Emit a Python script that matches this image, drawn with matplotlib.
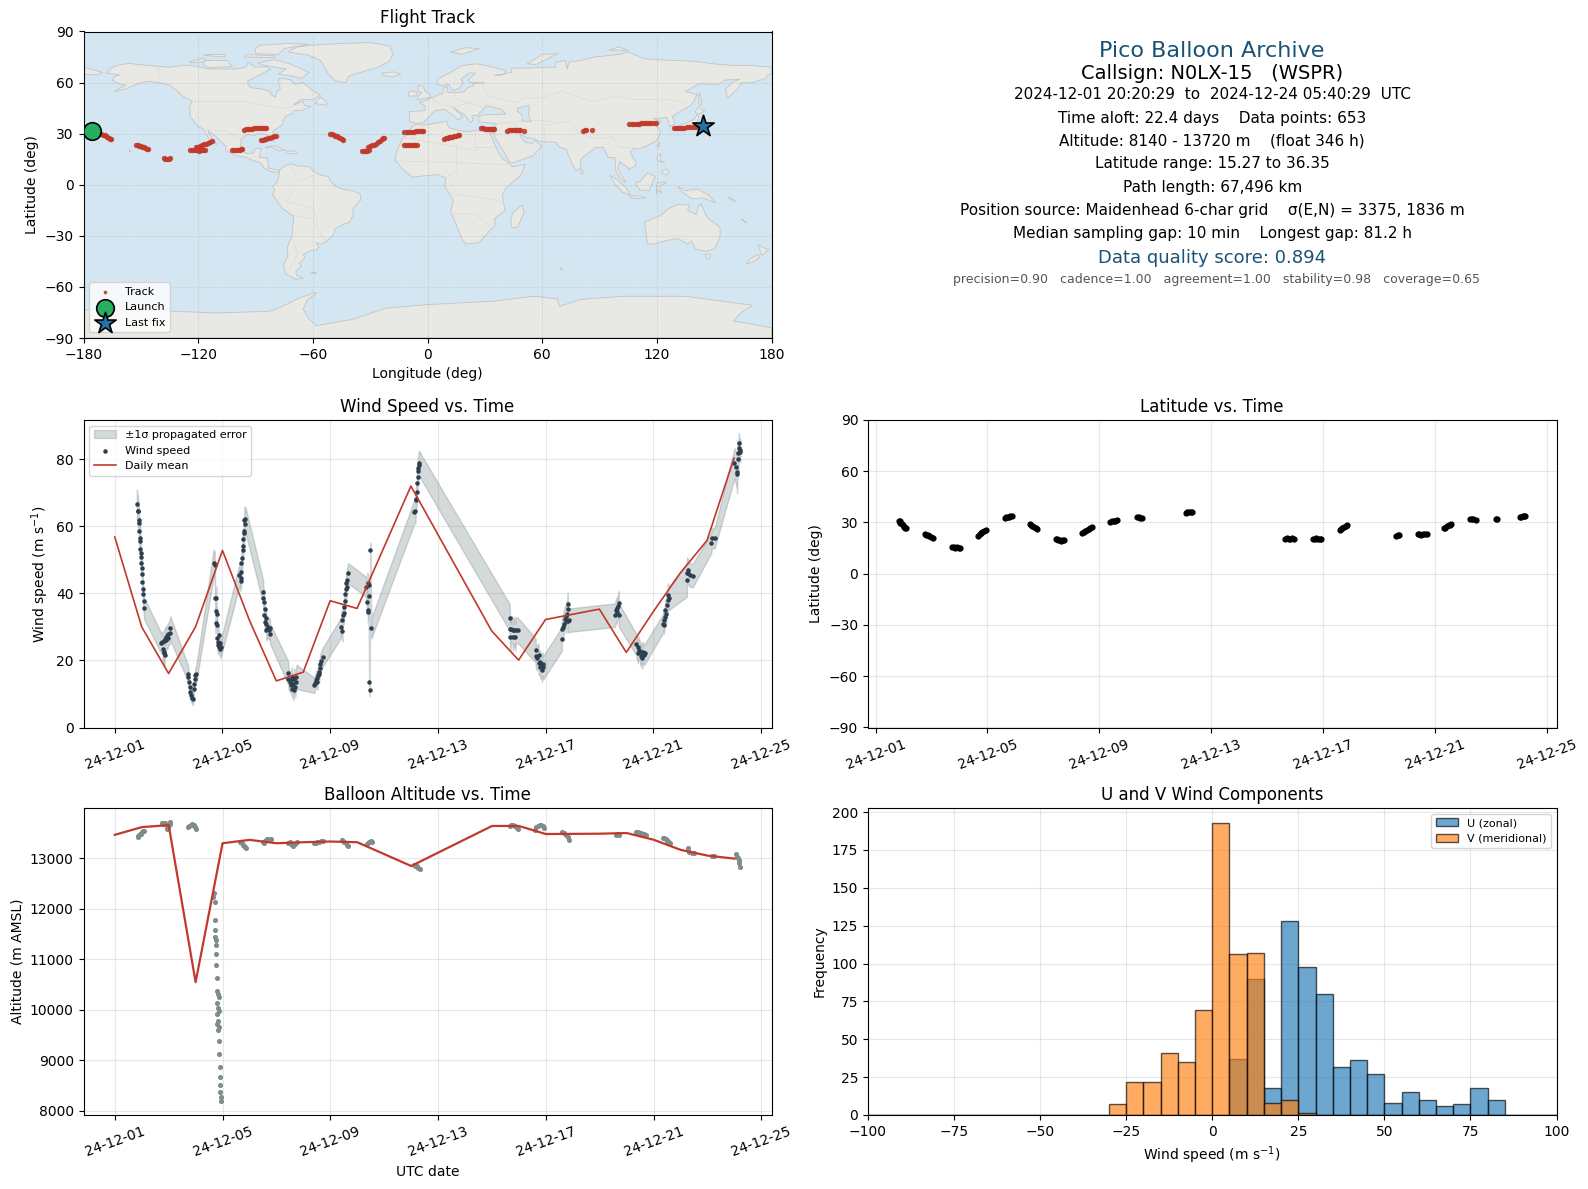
import datetime as dt

import numpy as np
import matplotlib
matplotlib.use("Agg")
import matplotlib.pyplot as plt
import matplotlib.dates as mdates
from matplotlib.patches import Polygon

# wind speed samples: day since 2024-12-01, m/s, 1-sigma
wind_day = [
    0.82, 0.856, 0.86, 0.893, 0.895, 0.906, 0.943, 0.945, 0.95, 0.968, 0.97, 0.98, 1.017, 1.02, 1.025, 1.055, 1.042, 1.067, 1.09,
    1.725, 1.76, 1.787, 1.81, 1.812, 1.824, 1.85, 1.852, 1.886, 1.91, 1.935, 1.96, 1.985, 2.035, 2.06,
    2.72, 2.73, 2.755, 2.78, 2.80, 2.84, 2.88, 2.90, 2.93, 2.94, 2.98, 2.99, 3.03,
    3.67, 3.71, 3.73, 3.75, 3.76, 3.77, 3.78, 3.81, 3.815, 3.82, 3.85, 3.86, 3.88, 3.90, 3.92, 3.95,
    4.63, 4.67, 4.68, 4.69, 4.70, 4.73, 4.75, 4.755, 4.78, 4.79, 4.80, 4.81, 4.83, 4.85,
    5.51, 5.515, 5.55, 5.555, 5.57, 5.575, 5.60, 5.63, 5.635, 5.66, 5.69, 5.73, 5.76, 5.77,
    6.44, 6.45, 6.50, 6.53, 6.55, 6.58, 6.60, 6.63, 6.65, 6.67, 6.70, 6.72, 6.75,
    7.41, 7.43, 7.47, 7.51, 7.52, 7.54, 7.57, 7.59, 7.61, 7.63, 7.67, 7.72,
    8.42, 8.425, 8.45, 8.46, 8.51, 8.52, 8.55, 8.555, 8.59, 8.595, 8.61, 8.62, 8.67,
    9.33, 9.38, 9.39, 9.40, 9.42, 9.43, 9.45, 9.46, 9.47, 9.49, 9.53,
    11.13, 11.17, 11.18, 11.19, 11.22, 11.225, 11.25, 11.255, 11.28, 11.285, 11.30,
    14.67, 14.68, 14.69, 14.71, 14.78, 14.785, 14.84, 14.88, 14.90, 14.97,
    15.63, 15.64, 15.69, 15.74, 15.745, 15.79, 15.81, 15.83, 15.87, 15.89, 15.92,
    16.60, 16.61, 16.65, 16.67, 16.71, 16.76, 16.765, 16.78, 16.82, 16.825, 16.83, 16.87,
    18.58, 18.62, 18.65, 18.66, 18.71, 18.72, 18.725,
    19.36, 19.43, 19.44, 19.49, 19.53, 19.56, 19.59, 19.61, 19.64, 19.70,
    20.35, 20.39, 20.395, 20.43, 20.45, 20.48, 20.50, 20.54, 20.545, 20.58,
    21.25, 21.255, 21.28, 21.31, 21.37, 21.47,
    22.15, 22.18, 22.28,
    23.02, 23.06, 23.11, 23.115, 23.14, 23.16, 23.18, 23.185, 23.21, 23.24,
]
wind_speed = [
    66.6, 64.7, 64.5, 61.9, 60.9, 58.5, 56.4, 55.7, 53.1, 51.9, 50.7, 49.2, 47.5, 45.8, 43.3, 39.7, 41.2, 37.7, 35.5,
    25.1, 25.6, 23.3, 22.1, 25.9, 22.6, 21.6, 26.3, 26.9, 26.1, 27.3, 26.8, 27.9, 28.3, 29.6,
    16.1, 15.1, 13.6, 12.1, 10.6, 9.7, 8.7, 8.4, 11.6, 12.9, 14.6, 15.6, 16.1,
    49.0, 48.5, 38.7, 31.3, 34.8, 38.5, 33.7, 30.7, 26.6, 24.6, 25.6, 27.6, 24.1, 25.1, 23.3, 23.9,
    45.5, 43.8, 46.5, 44.5, 49.2, 50.4, 52.9, 54.1, 56.1, 58.7, 57.9, 61.9, 60.6, 62.1,
    40.5, 38.5, 37.3, 33.5, 35.3, 31.5, 32.8, 30.8, 29.1, 29.4, 30.0, 29.1, 29.6, 27.9,
    16.3, 14.6, 13.6, 14.1, 12.6, 15.1, 11.6, 13.1, 11.1, 14.6, 12.1, 13.6, 15.1,
    12.6, 13.3, 14.1, 14.8, 13.6, 15.6, 16.6, 16.1, 17.6, 18.9, 19.9, 20.9,
    30.0, 32.0, 28.7, 33.5, 34.0, 36.0, 37.8, 39.8, 41.2, 43.0, 42.0, 44.0, 46.0,
    42.0, 37.3, 43.2, 34.5, 35.0, 42.5, 13.6, 39.2, 11.3, 52.8, 29.6,
    64.4, 64.5, 68.1, 67.9, 70.3, 73.0, 74.8, 76.6, 77.3, 78.3, 78.8,
    32.8, 29.3, 26.9, 29.3, 29.0, 26.9, 29.0, 26.9, 29.0, 29.0,
    23.0, 21.3, 20.6, 21.6, 19.1, 19.6, 18.1, 18.6, 17.1, 18.9, 17.9,
    26.3, 29.3, 30.0, 31.0, 32.5, 33.2, 31.8, 33.9, 35.2, 36.7, 31.8, 32.0,
    33.5, 35.0, 34.5, 35.5, 36.3, 37.2, 33.5,
    24.9, 22.1, 24.1, 23.1, 21.3, 22.4, 20.6, 22.6, 21.6, 22.1,
    30.8, 32.0, 30.7, 33.0, 35.0, 33.8, 36.5, 38.0, 39.5, 38.5,
    44.0, 46.2, 47.0, 46.0, 45.5, 45.3,
    54.9, 56.4, 56.4,
    78.8, 77.8, 76.3, 75.5, 81.8, 80.0, 83.3, 84.8, 82.3, 82.8,
]
wind_sigma = [
    4.4, 4.4, 4.3, 4.2, 4.2, 4.0, 4.0, 3.9, 3.8, 3.8, 3.7, 3.6, 3.6, 3.5, 3.5, 3.4, 3.4, 3.3, 3.2,
    3.0, 3.0, 3.0, 3.1, 3.0, 3.0, 3.0, 3.2, 3.2, 3.2, 3.3, 3.3, 3.4, 3.5, 3.6,
    2.4, 2.3, 2.2, 2.0, 2.0, 1.9, 1.8, 1.7, 1.9, 2.0, 2.2, 2.3, 2.5,
    4.0, 4.0, 3.6, 3.2, 3.3, 3.5, 3.2, 3.0, 2.8, 2.6, 2.7, 2.8, 2.6, 2.6, 2.5, 2.6,
    3.2, 3.0, 3.2, 3.0, 3.3, 3.4, 3.5, 3.5, 3.6, 3.7, 3.7, 3.8, 3.8, 3.8,
    3.5, 3.5, 3.5, 3.3, 3.4, 3.2, 3.2, 3.1, 3.0, 3.0, 3.0, 3.0, 3.0, 3.0,
    3.5, 3.2, 3.0, 3.0, 2.9, 3.0, 2.9, 2.9, 2.9, 3.0, 2.9, 3.0, 3.6,
    2.3, 2.3, 2.3, 2.4, 2.3, 2.5, 2.5, 2.5, 2.6, 2.7, 2.8, 2.8,
    3.0, 3.0, 3.0, 3.0, 3.0, 3.0, 3.0, 3.0, 3.0, 3.0, 3.0, 3.0, 3.0,
    3.0, 3.0, 3.0, 3.0, 3.0, 3.0, 2.2, 3.0, 2.0, 2.2, 3.0,
    3.5, 3.5, 3.5, 3.5, 3.5, 3.5, 3.7, 3.7, 3.7, 3.7, 3.7,
    4.0, 4.0, 4.0, 4.0, 4.0, 4.0, 4.0, 4.0, 3.8, 3.8,
    3.6, 3.5, 3.5, 3.5, 3.5, 3.5, 3.5, 3.5, 3.5, 3.5, 3.5,
    3.5, 3.5, 3.5, 3.5, 3.5, 3.5, 3.5, 3.5, 3.5, 3.5, 3.5, 3.5,
    3.5, 3.5, 3.5, 3.5, 3.5, 3.5, 3.5,
    3.2, 3.0, 3.2, 3.0, 3.0, 3.0, 3.0, 3.0, 3.0, 3.0,
    2.8, 3.0, 2.8, 3.0, 3.2, 3.2, 3.4, 3.5, 3.5, 3.5,
    5.0, 4.5, 3.5, 3.5, 3.5, 3.5,
    3.0, 3.0, 3.0,
    4.5, 4.8, 5.2, 5.6, 4.0, 4.0, 3.2, 3.0, 3.2, 3.2,
]
wind_mean_day = [0, 1, 2, 3, 4, 5, 6, 7, 8, 9, 11, 14, 15, 16, 18, 19, 20, 21, 22, 23]
wind_mean = [56.8, 30.0, 16.1, 30.0, 52.8, 32.0, 13.9, 16.5, 37.8, 35.5, 72.0, 28.8, 20.1, 32.2, 35.3, 22.4, 34.5, 46.0, 55.8, 80.3]

# latitude samples
lat_day = [
    0.847, 0.87, 0.89, 0.93, 0.97, 1.01, 1.05, 1.086,
    1.77, 1.82, 1.87, 1.92, 1.97, 2.04,
    2.73, 2.79, 2.85, 2.91, 2.97, 3.03,
    3.67, 3.72, 3.77, 3.82, 3.88, 3.95,
    4.63, 4.68, 4.73, 4.78, 4.82, 4.87,
    5.51, 5.56, 5.61, 5.66, 5.72, 5.78,
    6.44, 6.49, 6.54, 6.59, 6.64, 6.69, 6.74,
    7.38, 7.44, 7.50, 7.56, 7.62, 7.68, 7.73,
    8.39, 8.45, 8.51, 8.57, 8.64,
    9.36, 9.42, 9.47, 9.52,
    11.09, 11.15, 11.21, 11.27, 11.33,
    14.66, 14.72, 14.78, 14.84, 14.90, 14.97,
    15.65, 15.70, 15.76, 15.82, 15.88, 15.93,
    16.60, 16.65, 16.70, 16.75, 16.81, 16.87,
    18.62, 18.67, 18.72,
    19.39, 19.45, 19.52, 19.58, 19.65, 19.71,
    20.33, 20.38, 20.44, 20.50, 20.55, 20.59,
    21.26, 21.32, 21.38, 21.47,
    22.18, 22.22,
    23.05, 23.10, 23.15, 23.20, 23.236,
]
lat_deg = [
    31.0, 30.7, 29.9, 29.2, 28.4, 27.6, 27.0, 26.5,
    23.1, 22.9, 22.6, 22.2, 21.7, 21.0,
    15.5, 15.4, 15.3, 15.4, 15.3, 15.3,
    22.2, 23.0, 23.9, 24.5, 25.0, 25.5,
    32.5, 33.0, 33.3, 33.5, 33.8, 33.9,
    29.4, 28.8, 28.1, 27.6, 27.0, 26.3,
    20.2, 20.1, 20.0, 19.6, 19.4, 19.5, 19.5,
    24.1, 24.6, 25.2, 25.7, 26.3, 26.8, 27.3,
    30.4, 30.9, 31.0, 31.1, 31.2,
    33.0, 33.0, 32.8, 32.5,
    35.7, 35.9, 36.2, 36.4, 36.35,
    20.6, 20.7, 20.6, 20.6, 20.7, 20.6,
    20.6, 20.6, 20.7, 20.6, 20.5, 20.6,
    25.5, 26.0, 26.7, 27.4, 28.0, 28.6,
    22.3, 22.5, 22.9,
    23.0, 23.0, 22.9, 23.0, 23.0, 23.0,
    26.5, 27.0, 27.7, 28.3, 28.8, 29.2,
    31.8, 31.9, 31.8, 31.7,
    32.0, 32.1,
    33.0, 33.3, 33.6, 33.9, 34.0,
]

# altitude samples
alt_day = [
    0.856, 0.90, 0.95, 1.00, 1.04, 1.07, 0.88, 0.98,
    1.76, 1.80, 1.85, 1.90, 1.93, 1.96, 2.00, 2.06, 2.04,
    2.72, 2.76, 2.82, 2.88, 2.94, 2.98, 3.03,
    3.68, 3.65, 3.72, 3.72, 3.72, 3.72, 3.76, 3.76, 3.76, 3.75, 3.80, 3.80, 3.83, 3.86, 3.80, 3.83, 3.86, 3.80, 3.83, 3.81, 3.86, 3.83, 3.87, 3.87, 3.91, 3.91, 3.91, 3.92, 3.93, 3.95,
    4.64, 4.68, 4.72, 4.76, 4.80, 4.83, 4.86,
    5.51, 5.56, 5.60, 5.64, 5.70, 5.75, 5.79, 5.53,
    6.44, 6.49, 6.54, 6.58, 6.62, 6.68, 6.75,
    7.41, 7.47, 7.52, 7.58, 7.64, 7.69, 7.74,
    8.42, 8.47, 8.52, 8.57, 8.62, 8.67,
    9.35, 9.40, 9.45, 9.50, 9.54,
    11.09, 11.14, 11.20, 11.26, 11.32,
    14.65, 14.72, 14.78, 14.84, 14.90, 14.97,
    15.61, 15.64, 15.72, 15.78, 15.83, 15.88, 15.92,
    16.61, 16.69, 16.76, 16.83, 16.87,
    18.62, 18.66, 18.71,
    19.36, 19.43, 19.49, 19.54, 19.59, 19.65, 19.71,
    20.35, 20.40, 20.45, 20.50, 20.54, 20.60,
    21.26, 21.32, 21.41, 21.50,
    22.15, 22.20, 22.24,
    23.05, 23.08, 23.12, 23.15, 23.18, 23.22,
]
alt_m = [
    13431, 13460, 13490, 13520, 13540, 13550, 13445, 13480,
    13696, 13680, 13690, 13660, 13577, 13600, 13650, 13710, 13670,
    13617, 13640, 13663, 13670, 13650, 13625, 13584,
    12303, 12237, 12138, 11786, 11587, 11441, 11375, 11275, 11109, 10891, 10632, 10367, 10313, 10247, 10134, 10035, 9982, 9915, 9783, 9716, 9663, 9597, 9385, 9119, 8861, 8668, 8502, 8370, 8270, 8191,
    13332, 13320, 13300, 13270, 13240, 13215, 13199,
    13332, 13350, 13370, 13380, 13375, 13360, 13378, 13300,
    13312, 13320, 13290, 13270, 13252, 13290, 13332,
    13300, 13310, 13320, 13320, 13335, 13345, 13345,
    13365, 13350, 13330, 13300, 13270, 13245,
    13279, 13300, 13320, 13335, 13332,
    12867, 12850, 12840, 12800, 12788,
    13647, 13660, 13667, 13640, 13620, 13580,
    13567, 13620, 13647, 13655, 13653, 13630, 13600,
    13513, 13500, 13467, 13413, 13353,
    13453, 13487, 13460,
    13520, 13515, 13507, 13495, 13487, 13475, 13467,
    13393, 13395, 13380, 13350, 13333, 13300,
    13200, 13133, 13100, 13113,
    13053, 13053, 13050,
    13080, 13020, 13000, 12967, 12900, 12833,
]
alt_mean_day = [0, 1, 2, 3, 4, 5, 6, 7, 8, 9, 11, 14, 15, 16, 18, 19, 20, 21, 22, 23]
alt_mean = [13464, 13617, 13657, 10546, 13298, 13365, 13298, 13318, 13332, 13318, 12847, 13640, 13640, 13480, 13487, 13500, 13367, 13167, 13053, 12993]

# flight track
track_lon = [
    -174, -173, -172, -171, -170, -169, -168.3, -167.5, -166.8, -166, -165.4,
    -152.5, -151.7, -151, -150, -149.3, -148.5, -147.7, -146.8, -146,
    -138, -137.2, -136.3, -135.5, -135,
    -124.3, -123.3, -122.4, -121.4, -120.4, -119.4, -118.4, -117.4, -116.5,
    -121, -120, -119, -118, -117, -116, -115, -114, -113, -120, -118.2,
    -102.3, -101.3, -100.3, -99.3, -98.3, -97.5, -96.9,
    -96, -95, -94, -93, -92, -91, -90, -89, -88, -87, -86, -85, -84.3,
    -87.3, -86.3, -85.3, -84.3, -83.3, -82.3, -81.3, -80.3, -79.5,
    -50.8, -50, -49.2, -48.3, -47.5, -46.7, -45.8, -45, -44,
    -34.4, -33.5, -32.6, -31.6, -30.4,
    -31, -30, -29, -28, -27, -26, -25, -24, -23.2, -22.6,
    -12.2, -11, -10, -9, -8, -7, -6, -5, -4, -3, -2.3,
    -12.2, -11.2, -10.2, -9.2, -8.2, -7.2, -6.4, -5.7,
    8.7, 9.6, 10.5, 11.3, 12, 13, 14, 15, 15.8, 16.5,
    28, 29, 30, 31, 32, 32.8, 33.5, 34.2, 34.8,
    41.7, 42.6, 43.5, 44.5, 45.5, 46.2, 47, 47.7, 48.3, 50.6,
    81.4, 82.2, 83.1, 86,
    105.4, 106.7, 108, 109.3, 110.5, 111.5, 112.5, 113.8, 115, 116, 117, 118.2, 119.3,
    128.9, 130, 131, 132, 133, 134.2, 135.5, 136.7, 138, 139.2, 140.3, 141.4,
]
track_lat = [
    31.2, 30.8, 30.3, 29.9, 29.5, 29.0, 28.6, 28.0, 27.6, 27.1, 26.7,
    23.3, 23.1, 22.9, 22.7, 22.4, 22.1, 21.7, 21.2, 20.8,
    15.5, 15.3, 15.2, 15.4, 15.6,
    20.4, 20.3, 20.3, 20.2, 20.3, 20.1, 20.2, 20.3, 20.4,
    21.9, 22.2, 22.7, 23.2, 23.7, 24.2, 24.8, 25.2, 25.5, 21.0, 21.2,
    20.4, 20.4, 20.5, 20.5, 20.6, 20.8, 21.0,
    32.2, 32.5, 32.8, 32.9, 33.0, 33.2, 33.4, 33.4, 33.4, 33.5, 33.5, 33.5, 33.4,
    26.0, 26.4, 26.8, 27.1, 27.4, 27.7, 28.0, 28.4, 28.8,
    30.0, 29.7, 29.4, 28.9, 28.4, 28.0, 27.5, 27.1, 26.5,
    20.0, 19.9, 19.9, 20.0, 20.3,
    22.0, 22.7, 23.1, 23.3, 24.0, 24.9, 25.8, 26.6, 27.2, 27.7,
    30.8, 30.9, 31.0, 31.0, 31.0, 31.2, 31.3, 31.4, 31.5, 31.7, 31.8,
    23.3, 23.3, 23.3, 23.3, 23.3, 23.3, 23.3, 23.3,
    26.9, 27.2, 27.5, 27.8, 28.0, 28.3, 28.5, 28.8, 29.1, 29.4,
    33.3, 33.2, 33.0, 33.0, 33.0, 32.8, 32.7, 32.7, 32.8,
    31.8, 31.9, 32.0, 32.1, 32.2, 32.2, 32.2, 32.1, 32.0, 31.6,
    31.6, 31.9, 32.2, 32.3,
    35.7, 35.7, 35.8, 35.9, 35.9, 36.1, 36.3, 36.3, 36.3, 36.2, 36.2, 36.3, 36.3,
    33.3, 33.4, 33.4, 33.5, 33.5, 33.6, 33.7, 33.9, 34.0, 34.1, 34.2, 34.3,
]
launch_lon, launch_lat = -175.8, 31.8
last_lon, last_lat = 144.0, 34.7

# histogram counts, one per 5 m/s bin from -100 to 100
bin_edges = list(range(-100, 105, 5))
u_counts = [0, 0, 0, 0, 0, 0, 0, 0, 0, 0, 0, 0, 0, 0, 0, 0, 0, 0, 0, 0, 0,
            37, 90, 18, 128, 98, 80, 32, 36, 27, 8, 15, 10, 6, 7, 18, 10, 0, 0, 0]
v_counts = [0, 0, 0, 0, 0, 0, 0, 0, 0, 0, 0, 0, 0, 0,
            7, 22, 22, 41, 35, 69, 193, 106, 107, 8, 10, 1, 0, 0, 0, 0, 0, 0, 0, 0, 0, 0, 0, 0, 0, 0]

# coarse land outlines, lon/lat
land = [
    [(-168,65.5),(-166,68.3),(-162,70.2),(-156.5,71.3),(-150,70.5),(-141,69.6),(-135,69),(-128,70.2),(-120,69.5),(-115,68),(-108,68),(-100,68),(-95,69),(-94,72),(-90,69),(-85,69.5),(-82,68),(-87,65),(-94,61),(-94,58.8),(-92.5,57),(-88,56.5),(-82.5,55),(-82,52.8),(-79.5,51.5),(-79,54.5),(-77,56.5),(-78,60),(-77.5,62.5),(-72,61.8),(-69.5,59),(-65,60),(-61,56),(-56,52.5),(-60,50),(-66.5,50),(-70,47),(-65,49),(-64.5,46.5),(-61,46),(-65.5,43.7),(-70,43.5),(-70.5,41.7),(-74,40.5),(-75.5,38),(-76,35),(-78,33.8),(-81,31.5),(-80,27),(-80.5,25.2),(-82,27),(-83,29),(-85,29.7),(-89,30.2),(-90,29),(-94,29.5),(-97.3,27.5),(-97.8,22.5),(-96,19),(-94,18.2),(-91,18.7),(-90.5,21),(-87,21.5),(-88,16),(-84,15.8),(-83.3,12),(-83.6,10),(-80,9),(-77.5,8.5),(-78,7.5),(-80.5,7.3),(-83,8.3),(-85.7,10),(-87.5,13),(-92,14.5),(-95,16),(-100,17),(-105.5,20),(-105.5,22.5),(-109,26.5),(-112.5,30),(-114.7,31.7),(-114.5,30),(-110.3,23.5),(-112,25),(-115,28),(-117,32.5),(-120.5,34.5),(-122.5,37.5),(-124.2,40.3),(-124.5,46),(-123,49),(-128,52),(-131,55),(-135,58.5),(-140,59.8),(-146,60.8),(-152,59.2),(-158,56.2),(-164,54.7),(-158,58.5),(-162,59.5),(-165,61.5),(-164,63.5),(-161,64.5)],
    [(-73,78),(-68,81),(-60,82),(-45,83),(-30,83.5),(-20,81.5),(-18,77),(-20,72.5),(-26,69),(-35,66),(-41,64),(-43,60),(-48,61),(-52,65),(-54,69),(-56,73),(-62,76)],
    [(-80,73.5),(-72,71),(-67,68.5),(-62,66),(-66,62.5),(-72,64),(-78,65),(-74,68),(-85,70),(-89,71.5)],
    [(-117,73),(-105,73),(-102,69.5),(-113,68.7),(-117,70)],
    [(-90,77),(-78,76.5),(-75,80),(-62,82.5),(-72,83),(-88,82),(-90,80)],
    [(-125,72),(-117,74.5),(-116,73),(-120,71.5)],
    [(-96,75),(-80,74.7),(-80,75.7),(-95,76.5)],
    [(-117,76),(-106,75),(-106,76.5),(-116,76.5)],
    [(-59,47.7),(-53,46.7),(-53,49),(-56,51.5)],
    [(-85,22),(-80,23),(-74.5,20.2),(-77.5,19.9),(-82,22.3)],
    [(-74,19.8),(-69,19.7),(-68.5,18.3),(-74,18.2)],
    [(-24,65.5),(-18,66.3),(-14,65),(-18,63.5),(-22.5,64)],
    [(-156,20.5),(-155,19.5),(-155.8,19)],
    [(-77.5,8.5),(-75,11),(-71.5,12.3),(-68,11),(-62,10.7),(-60,8.4),(-57,6),(-52,4.8),(-50,1),(-48,-1),(-44,-2.8),(-39,-3.5),(-35.2,-5.5),(-35,-9),(-39,-14),(-39,-18),(-41,-22),(-45,-23.8),(-48.5,-26),(-49,-29),(-53,-33.5),(-56,-34.8),(-58.3,-34),(-57,-36.5),(-58,-38.3),(-62,-39),(-65,-41),(-64,-42.7),(-67,-46),(-66,-48),(-69,-51),(-68.5,-53),(-65,-55),(-69,-55.5),(-74,-52.5),(-75.5,-47),(-73,-42),(-73.5,-37),(-71,-30),(-70,-18.5),(-76,-14),(-81,-6),(-80,-3),(-81,-1),(-78.5,2),(-77.5,7)],
    [(-61,-51.5),(-58,-51.5),(-59,-52.3)],
    [(-180,-73.7),(-155.6,-73.3),(-110.4,-75.3),(-82.6,-74.3),(-75.7,-71.3),(-68,-67),(-60,-63.5),(-58,-63.5),(-63,-68),(-65,-73),(-62,-79),(-58,-82.7),(-39,-79),(-22,-72.5),(0,-70.4),(34.4,-68.4),(55.3,-65.5),(68,-67),(69,-71.5),(79.7,-67.4),(102,-65.5),(135,-65.5),(170,-70.8),(164,-75),(160,-80),(180,-84),(180,-90),(-180,-90)],
    [(-9.5,37),(-9.5,43),(-1.5,43.5),(-1,46),(-4.5,48.5),(-1,49.5),(2,51),(4,52),(8,54),(8.3,57),(10.5,57.5),(10,54.5),(14,54),(19,54.5),(21,57),(24,58),(24,59.5),(30,60),(23,60),(21,61.5),(25,65.5),(22,65.8),(17.5,62),(18.5,60),(16.5,56.5),(14,55.5),(12.5,56),(11,59),(8,58),(5,59),(5,62),(12,66),(18,70),(25,71),(31,70),(41,67),(40,65),(35,64.5),(37,64),(40,65),(44,66),(44,68.5),(53,68.5),(60,69),(67,69),(67,72),(72,73),(73,68),(74,72),(80,73),(87,75),(100,76.5),(105,78),(113,74),(128,73),(140,72.5),(150,71),(160,70),(170,70),(180,69),(180,65),(178,64.5),(177,62.5),(170,60),(164,59.8),(162,56),(157,51),(155.7,56),(160,60.5),(163.5,62),(156,61.5),(152,59),(142,59.3),(135,54.7),(141,53),(138,46.8),(132,43),(128,40),(129.5,36),(126.5,34.3),(126,37.5),(125,39.7),(121.5,39),(118,39),(122,37),(119.5,35),(122,31),(120,26),(114,22.5),(110,21),(108,21.5),(106,19),(109,13),(109,11.5),(105,8.7),(105,10),(100.5,13.5),(99.5,9.5),(103.5,1.5),(101,3),(98.5,8),(98,16),(94.5,16),(92,22),(88,22),(85,19.5),(80.2,15),(80,10),(77.5,8),(73,19),(72.5,21),(69,22),(67,25),(61.5,25.2),(57,26),(56,27),(51,28),(48,30),(50,26),(51.5,25),(54,24.2),(56.3,26),(59.8,22.5),(55,17),(45,13),(43,13),(39,21),(35,28),(34.8,31.5),(36,36),(31,36.5),(27,37),(26.5,40),(29,41),(41,41.5),(38,44.5),(34,45.5),(31,46.5),(28,43),(26,40.7),(23,40.5),(24,38),(22.5,36.5),(19.5,41),(13,45.5),(18.5,40),(16,38),(13,41),(9,44.3),(3.5,43.3),(0,39),(-2,36.7),(-5.5,36)],
    [(-6,35.8),(-2,35),(10,37.3),(11,33.5),(15,32.3),(20,31),(25,32),(32,31.2),(34.5,31),(32.5,30),(35,24),(37.5,18),(39.5,15),(43,12),(44.5,10.5),(51,12),(49,6),(41,-2),(39,-6),(40.5,-15),(35,-20),(35.3,-24),(32.5,-27),(27,-34),(20,-34.8),(18,-32),(14.5,-22),(12,-16),(13.5,-9),(9,-1),(9.5,4),(5,6),(-4,5),(-8,4.5),(-13,9),(-17,14.5),(-16,20),(-13,27.5),(-9.5,30),(-9,33)],
    [(49.3,-12),(50.5,-16),(47,-25),(44,-25),(43.5,-21),(44.5,-16.5)],
    [(-5.5,50),(1.5,51.3),(1.5,53),(-1.5,55),(-2,57.5),(-5,58.5),(-5,55),(-3,54),(-5,52)],
    [(-10,52),(-6,52.2),(-5.7,54.5),(-8,55.2),(-10,54)],
    [(12,78),(20,80.5),(27,80),(18,76.7)],
    [(52,71),(57,70.7),(68,77),(60,76.5)],
    [(95,79),(105,79),(100,81)],
    [(142,54),(143.5,50),(143,46),(142,47),(142,52)],
    [(130.5,34),(136,34),(140.5,35.5),(142,39.5),(141,41.3),(139.5,38.5),(136,36.5),(131,34.5)],
    [(140,43),(141.5,45.5),(145,43.5),(143,42),(140.5,41.8)],
    [(120,23),(121.5,25),(121,22)],
    [(120,16),(122,18.5),(122,14),(124,13),(120.5,14)],
    [(122,7),(125,9.5),(126.5,7),(125,5.8)],
    [(80,9.5),(81.8,7.5),(80.5,6),(79.8,8)],
    [(109,1.5),(111,1.7),(115,7),(119,5),(117.5,1),(116,-3.5),(111,-3),(109,0)],
    [(95.3,5.5),(98,4),(104,-2),(106,-6),(102,-4.5),(98,0.5)],
    [(105.5,-6.5),(110,-6.5),(114.5,-7.7),(110,-8.2),(106,-7.5)],
    [(119.5,-5.5),(120,1),(125,1.5),(121,-1),(122.5,-5),(120.5,-3)],
    [(131,-1),(135,-3.5),(141,-2.5),(147,-6),(150.5,-10.5),(144,-7.8),(138,-8.2),(133,-4)],
    [(113.5,-22),(114,-26),(115,-34.5),(118,-35),(124,-33),(131,-31.5),(136,-35),(138,-33),(140,-38),(146,-39),(150,-37.5),(153,-31),(153,-25),(146,-19),(143,-11),(141.5,-13),(140.5,-17.5),(136,-15),(137,-12),(131,-11.5),(126,-14),(122,-18)],
    [(145,-41),(148,-41),(147.5,-43.5),(146,-43.5)],
    [(173,-35),(175.5,-37),(178.5,-38),(175,-41.5),(174,-39)],
    [(172.5,-41),(174,-42),(171,-45),(167,-46.5),(168,-44)],
    [(-180,69),(-175,67.5),(-170,66),(-173,64.5),(-180,65)],
    [(69,-49),(70.5,-49),(70,-50)],
    [(164,-20),(167,-22.3),(166.5,-22.3)],
    [(157,-7),(161,-9.5),(160,-10)],
]
caspian = [(47,45),(53,46.5),(53,40),(54,37),(49.5,37.5),(49.5,41),(47,43)]
borders = [
    [(-123,49),(-95,49),(-83,46),(-75,45),(-67,47)],
    [(-141,69.6),(-141,60)],
    [(-117,32.5),(-106,31.7),(-97.3,26)],
    [(-70,-18),(-60,-20),(-57,-27),(-53,-33)],
    [(-70,-3),(-74,-10),(-69,-11),(-60,-14),(-58,-20)],
    [(-72,12),(-68,2),(-60,5)],
    [(-71,-30),(-68,-40),(-72,-50)],
    [(28,60),(32,52),(40,50),(47,48),(50,51),(60,51),(70,55),(80,51),(87,49),(98,52),(108,50),(118,50),(127,50),(135,48)],
    [(74,37),(80,30),(88,27),(97,28),(100,22),(108,22)],
    [(45,37),(48,30)],
    [(61,25),(61,35),(74,37)],
    [(36,36),(45,37),(55,38),(66,37)],
    [(-13,27.5),(-8,27),(12,23),(25,20),(25,32)],
    [(25,22),(37,22)],
    [(15,23),(15,8),(9,4)],
    [(12,-5),(30,-8),(40,-10)],
    [(12,-17),(25,-17),(33,-25)],
    [(-2,35),(-8,27)],
    [(-17,14),(15,13),(35,12),(43,12)],
    [(2,51),(7,47),(14,46),(22,48),(30,45)],
    [(14,54),(15,50),(22,48)],
]

info_lines = [
    ("Pico Balloon Archive", 0.4985, 0.935, 16, "#1a5276"),
    ("Callsign: N0LX-15   (WSPR)", 0.4995, 0.863, 14, "black"),
    ("2024-12-01 20:20:29  to  2024-12-24 05:40:29  UTC", 0.5, 0.793, 11, "black"),
    ("Time aloft: 22.4 days    Data points: 653", 0.5, 0.717, 11, "black"),
    ("Altitude: 8140 - 13720 m    (float 346 h)", 0.5, 0.644, 11, "black"),
    ("Latitude range: 15.27 to 36.35", 0.5, 0.568, 11, "black"),
    ("Path length: 67,496 km", 0.5, 0.492, 11, "black"),
    ("Position source: Maidenhead 6-char grid    σ(E,N) = 3375, 1836 m", 0.5, 0.416, 11, "black"),
    ("Median sampling gap: 10 min    Longest gap: 81.2 h", 0.5, 0.340, 11, "black"),
    ("Data quality score: 0.894", 0.4995, 0.260, 13, "#1a5276"),
    ("precision=0.90   cadence=1.00   agreement=1.00   stability=0.98   coverage=0.65", 0.5058, 0.192, 9, "#555555"),
]

RED = "#c0392b"
base = mdates.date2num(dt.datetime(2024, 12, 1))
date_ticks = base + np.arange(0, 25, 4)

W, H = 1588, 1189
fig = plt.figure(figsize=(W / 100, H / 100), dpi=100)


def make_axes(left, top, right, bottom):
    return fig.add_axes([left / W, 1 - bottom / H, (right - left) / W, (bottom - top) / H])


def date_axis(ax):
    ax.set_xticks(date_ticks)
    ax.xaxis.set_major_formatter(mdates.DateFormatter("%y-%m-%d"))
    ax.tick_params(axis="x", labelrotation=20)
    ax.grid(True, alpha=0.3)
    ax.set_axisbelow(True)


# flight track map
ax = make_axes(83.5, 31.5, 771.7, 338)
ax.set_facecolor("#d4e6f1")
for shape in land:
    ax.add_patch(Polygon(shape, closed=True, facecolor="#e8e8e4", edgecolor="#c4c4c4", lw=0.6, zorder=1))
ax.add_patch(Polygon(caspian, closed=True, facecolor="#d4e6f1", edgecolor="#c4c4c4", lw=0.6, zorder=1.2))
for line in borders:
    xs, ys = zip(*line)
    ax.plot(xs, ys, color="#dadad6", lw=0.5, zorder=1.1)
ax.grid(True, color="gray", ls="--", lw=0.5, alpha=0.25, zorder=1.5)
ax.set_axisbelow(False)
ax.scatter(track_lon, track_lat, s=15, color=RED, alpha=0.9, lw=0, zorder=3, label="Track")
ax.scatter([launch_lon], [launch_lat], s=160, color="#27ae60", edgecolor="black", lw=1.2, zorder=4, label="Launch")
ax.scatter([last_lon], [last_lat], s=260, marker="*", color="#2471a3", edgecolor="black", lw=1.2, zorder=4, label="Last fix")
ax.set_xlim(-180, 180)
ax.set_ylim(-90, 90)
ax.set_xticks(np.arange(-180, 181, 60))
ax.set_yticks(np.arange(-90, 91, 30))
ax.set_xlabel("Longitude (deg)")
ax.set_ylabel("Latitude (deg)")
ax.set_title("Flight Track", fontsize=12)
track_legend = ax.legend(loc="lower left", fontsize=8)
track_legend.legend_handles[0].set_sizes([7])

# info panel
ax = make_axes(868, 31.5, 1556.5, 338)
ax.axis("off")
for text, xpos, ypos, size, color in info_lines:
    ax.text(xpos, ypos, text, transform=ax.transAxes, ha="center", va="center", fontsize=size, color=color)

# wind speed
ax = make_axes(83.5, 420, 771.7, 727.5)
order = np.argsort(wind_day)
wd = base + np.array(wind_day)[order]
ws = np.array(wind_speed)[order]
sg = np.array(wind_sigma)[order]
ax.fill_between(wd, ws - sg, ws + sg, color="#7f8c8d", alpha=0.33, label="±1σ propagated error")
ax.scatter(wd, ws, s=5, color="#2c3e50", zorder=3, label="Wind speed")
ax.plot(base + np.array(wind_mean_day), wind_mean, color=RED, lw=1.2, zorder=4, label="Daily mean")
date_axis(ax)
ax.set_ylim(0, 91.7)
ax.set_ylabel("Wind speed (m s$^{-1}$)")
ax.set_title("Wind Speed vs. Time", fontsize=12)
ax.legend(loc="upper left", fontsize=8)

# latitude
ax = make_axes(868, 420, 1556.5, 727.5)
ax.scatter(base + np.array(lat_day), lat_deg, s=12, color="black", zorder=3)
date_axis(ax)
ax.set_ylim(-90, 90)
ax.set_yticks(np.arange(-90, 91, 30))
ax.set_ylabel("Latitude (deg)")
ax.set_title("Latitude vs. Time", fontsize=12)

# altitude
ax = make_axes(83.5, 808, 771.7, 1115)
ax.scatter(base + np.array(alt_day), alt_m, s=7, color="#7f8c8d", zorder=3)
ax.plot(base + np.array(alt_mean_day), alt_mean, color=RED, lw=1.6, zorder=4)
date_axis(ax)
ax.set_ylim(7915, 13996)
ax.set_xlabel("UTC date")
ax.set_ylabel("Altitude (m AMSL)")
ax.set_title("Balloon Altitude vs. Time", fontsize=12)

# wind components
ax = make_axes(868, 808, 1556.5, 1115)
ax.bar(bin_edges[:-1], u_counts, width=5, align="edge", color="#1f77b4", edgecolor="black", alpha=0.65, label="U (zonal)")
ax.bar(bin_edges[:-1], v_counts, width=5, align="edge", color="#ff7f0e", edgecolor="black", alpha=0.65, label="V (meridional)")
ax.set_xlim(-100, 100)
ax.set_ylim(0, 202.65)
ax.set_yticks(np.arange(0, 201, 25))
ax.grid(True, alpha=0.3)
ax.set_axisbelow(True)
ax.set_xlabel("Wind speed (m s$^{-1}$)")
ax.set_ylabel("Frequency")
ax.set_title("U and V Wind Components", fontsize=12)
ax.legend(loc="upper right", fontsize=8)

fig.savefig("out.png", dpi=100)
